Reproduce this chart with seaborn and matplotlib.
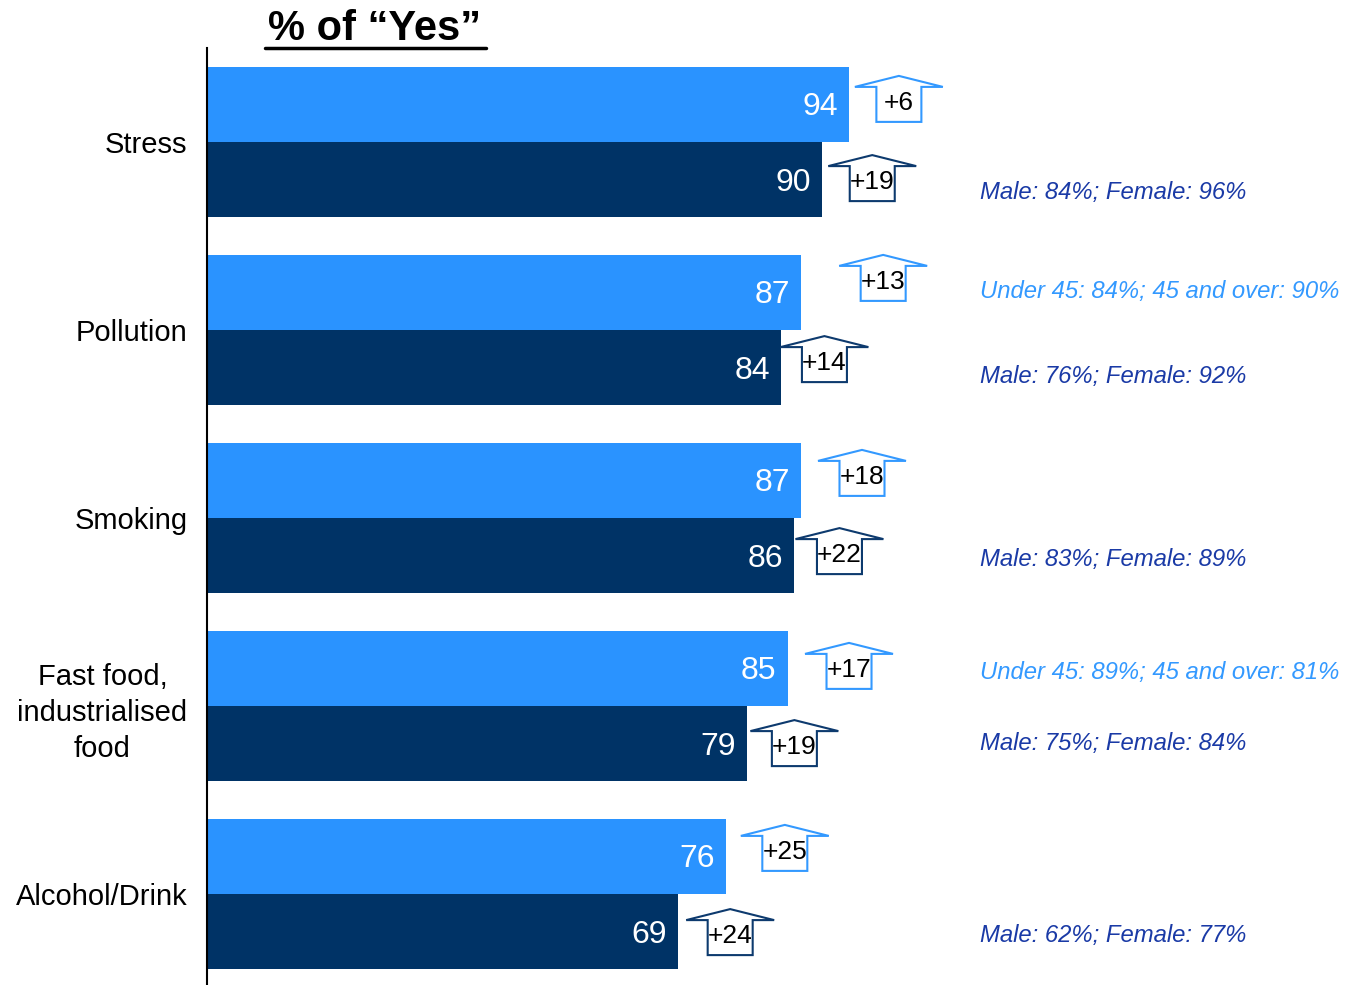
import numpy as np
import pandas as pd
import seaborn as sns
from matplotlib import pyplot as plt
from matplotlib.patches import Polygon
from matplotlib.lines import Line2D

sns.set_style("white")
plt.rcParams['font.family'] = ['Liberation Sans', 'DejaVu Sans']
plt.rcParams['text.color'] = 'black'
plt.rcParams['ytick.color'] = 'black'
plt.rcParams['ytick.labelcolor'] = 'black'

# ---------------- data
categories = ["Stress", "Pollution", "Smoking", "Fast food,\nindustrialised\nfood", "Alcohol/Drink"]
series_names = ["Series 1", "Series 2"]
values_1 = [94, 87, 87, 85, 76]
values_2 = [90, 84, 86, 79, 69]
change_1 = ["+6", "+13", "+18", "+17", "+25"]
change_2 = ["+19", "+14", "+22", "+19", "+24"]

note_cat = [0, 1, 1, 2, 3, 3, 4]
note_series = [1, 0, 1, 1, 0, 1, 1]
note_text = ["Male: 84%; Female: 96%",
             "Under 45: 84%; 45 and over: 90%",
             "Male: 76%; Female: 92%",
             "Male: 83%; Female: 89%",
             "Under 45: 89%; 45 and over: 81%",
             "Male: 75%; Female: 84%",
             "Male: 62%; Female: 77%"]

# ---------------- layout (hand placed, like the original)
arrow_gap_1 = [7.3, 12.0, 8.9, 9.0, 8.6]
arrow_gap_2 = [7.4, 6.4, 6.6, 7.0, 7.6]
tip_dy_1 = [-28.5, -37.5, -30.5, -25.5, -31.5]   # px from bar centre
tip_dy_2 = [-24.5, -31.5, -27.5, -23.5, -22.5]
note_dy = [13, -1, 9, 4, 4, 0, 4]
light = "#2A93FF"
dark = "#003366"
note_colors = ["#3399FF", "#1A3AA6"]
arrow_edges = ["#3399FF", "#0D3A6E"]

df = pd.DataFrame({
    "category": categories * 2,
    "series": [series_names[0]] * len(categories) + [series_names[1]] * len(categories),
    "value": values_1 + values_2,
})

W, H = 1351, 985
fh = plt.figure(figsize=(W / 100, H / 100), dpi=100)
ah = fh.add_axes([207 / W, -3 / H, (W - 207) / W, 940 / H])
sns.barplot(data=df, x="value", y="category", hue="series", palette=[light, dark],
            saturation=1, orient="h", legend=False, linewidth=0, ax=ah)

xpx = 6.83          # px per % unit
ypx = 188.0         # px per category
ah.set_xlim(0, (W - 207) / xpx)
ah.set_ylim(len(categories) - 0.5, -0.5)

# value labels inside bars
for cont in ah.containers:
    for bar in cont:
        w = bar.get_width()
        yc = bar.get_y() + bar.get_height() / 2
        ah.text(w - 1.6, yc + 3 / ypx, f"{w:.0f}", ha="right", va="center",
                color="white", fontsize=23)

def draw_arrow(cx, tip, label, edge):
    hw, sw = 44 / xpx, 22.5 / xpx
    hb, bot = tip + 11 / ypx, tip + 46 / ypx
    pts = [(cx - hw, hb), (cx, tip), (cx + hw, hb), (cx + sw, hb),
           (cx + sw, bot), (cx - sw, bot), (cx - sw, hb)]
    ah.add_patch(Polygon(pts, closed=True, facecolor="white", edgecolor=edge,
                         lw=1.5, zorder=3))
    ah.text(cx, tip + 27 / ypx, label, ha="center", va="center", fontsize=19,
            color="black", zorder=4)

for s, (vals, gaps, dys, chg) in enumerate([(values_1, arrow_gap_1, tip_dy_1, change_1),
                                             (values_2, arrow_gap_2, tip_dy_2, change_2)]):
    for i in range(len(categories)):
        yc = i - 0.2 + 0.4 * s
        draw_arrow(vals[i] + gaps[i], yc + dys[i] / ypx, chg[i], arrow_edges[s])

# side notes
for c, s, t, dy in zip(note_cat, note_series, note_text, note_dy):
    yc = c - 0.2 + 0.4 * s
    ah.text((980 - 207) / xpx, yc + dy / ypx, t, ha="left", va="center",
            fontsize=17.2, style="italic", color=note_colors[s])

# axes styling
for sp in ["top", "right", "bottom"]:
    ah.spines[sp].set_visible(False)
ah.spines["left"].set_linewidth(1.5)
ah.spines["left"].set_color("black")
ah.set_xticks([])
ah.set_xlabel("")
ah.set_ylabel("")
ah.set_yticks(np.arange(-0.5, len(categories), 1), minor=True)
ah.tick_params(axis="y", which="major", length=0, pad=14, labelsize=21,
               labelcolor="black")
ah.tick_params(axis="y", which="minor", length=6, width=1.5, color="black", direction="out")
for lab in ah.get_yticklabels():
    lab.set_multialignment("center")
    lab.set_linespacing(1.35)

# title with underline
fh.text(375 / W, 1 - 39.5 / H, "% of \u201cYes\u201d", ha="center", va="baseline",
        fontsize=30, weight="bold", color="black")
fh.add_artist(Line2D([265 / W, 486 / W], [1 - 48 / H, 1 - 48 / H], color="black", lw=2.5))

fh.savefig("out.png", dpi=100)
